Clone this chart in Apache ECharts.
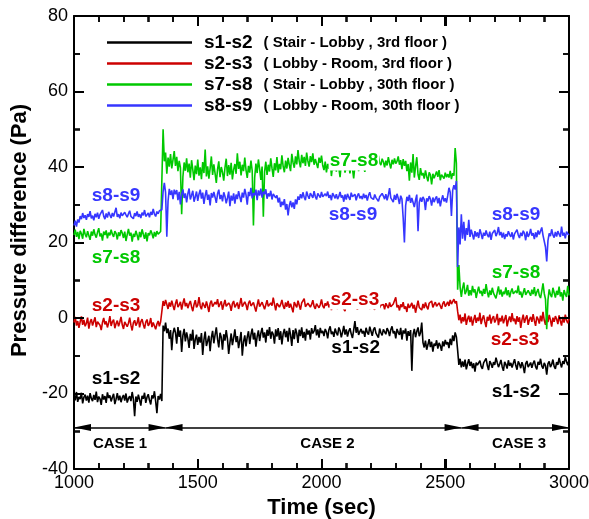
<!DOCTYPE html>
<html>
<head>
<meta charset="utf-8">
<script src="https://cdn.jsdelivr.net/npm/echarts@6/dist/echarts.min.js"></script>
<style>
html, body { margin: 0; padding: 0; background: #fff; }
#wrap { position: relative; width: 589px; height: 519px; }
#chart { width: 589px; height: 519px; }
#err { position: absolute; left: 2px; top: 0; font: 10px monospace; color: #f00; pointer-events: none; }
</style>
</head>
<body>
<div id="wrap"><div id="chart"></div><div id="err"></div></div>
<script>
const errBox = document.getElementById('err');
window.addEventListener('error', e => { errBox.textContent += ' ' + e.message; });

// Pressure differences (Pa), one sample every 5 s from t = 1000 s to t = 3000 s
const T_START = 1000;
const T_STEP = 5;

// s1-s2 : Stair - Lobby, 3rd floor
const s1s2 = [
  -20.5, -21.8, -19.6, -22.2, -20.9, -21.5, -19.8, -22.6, -21.0, -20.3,
  -21.9, -20.6, -22.4, -19.9, -21.3, -22.0, -20.4, -21.7, -19.5, -22.3,
  -20.8, -21.4, -23.0, -20.2, -21.6, -20.7, -22.5, -19.7, -21.2, -20.5,
  -22.1, -21.0, -20.1, -22.8, -21.5, -19.9, -21.8, -20.6, -22.3, -21.1,
  -20.4, -21.9, -20.0, -22.4, -21.3, -20.7, -22.0, -19.6, -21.5, -26.0,
  -20.8, -22.2, -20.3, -21.7, -23.2, -20.6, -21.4, -19.8, -22.5, -21.0,
  -20.2, -21.8, -22.9, -20.5, -21.3, -19.4, -22.1, -25.2, -20.7, -21.6,
  -20.1, -22.0,
  -2.0, -3.5, -1.2, -4.0, -2.8, -5.5, -3.2, -8.5, -4.1, -2.6,
  -3.9, -6.8, -2.4, -5.0, -3.3, -9.0, -4.6, -2.9, -6.2, -3.8,
  -5.4, -7.9, -4.2, -6.0, -3.1, -8.2, -5.7, -4.4, -7.1, -5.0,
  -6.5, -4.0, -9.8, -5.8, -3.6, -7.4, -6.1, -4.7, -8.8, -5.2,
  -3.4, -6.7, -4.5, -2.5, -5.6, -7.8, -3.9, -5.1, -8.4, -4.3,
  -6.0, -3.2, -5.5, -9.5, -6.6, -4.1, -7.2, -5.3, -3.0, -6.4,
  -4.8, -8.0, -5.9, -3.7, -10.0, -6.3, -4.6, -7.5, -5.0, -3.5,
  -6.9, -4.4, -2.8, -5.7, -3.9, -7.6, -4.9, -3.3, -6.1, -4.0,
  -2.6, -5.2, -3.8, -6.5, -3.1, -4.7, -2.4, -5.5, -3.6, -4.3,
  -6.8, -3.0, -4.9, -2.7, -5.8, -3.5, -7.0, -4.2, -2.9, -5.1,
  -3.4, -6.3, -2.6, -4.5, -7.4, -3.2, -5.6, -2.8, -4.0, -6.6,
  -3.1, -4.8, -2.5, -5.3, -3.7, -6.0, -2.9, -4.4, -3.3, -5.7,
  -2.7, -4.1, -3.5, -1.9, -4.6, -3.0, -5.2, -2.6, -4.0, -3.4,
  -4.8, -2.9, -3.7, -5.4, -3.1, -2.2, -4.3, -3.6, -5.0, -2.8,
  -3.9, -4.6, -2.5, -3.3, -5.1, -3.8, -2.1, -4.4, -3.0, -4.9,
  -3.5, -2.7, -4.2, -5.3, -3.2, -0.8, -3.9, -2.4, -4.5, -3.6,
  -2.9, -4.1, -3.4, -5.0, -2.6, -3.8, -4.4, -2.3, -3.5, -4.7,
  -3.1, -2.5, -4.0, -3.6, -5.2, -2.8, -3.9, -4.6, -3.0, -3.7,
  -4.3, -2.7, -3.4, -4.8, -3.1, -2.2, -4.1, -3.5, -5.4, -2.9,
  -3.8, -4.5, -2.6, -5.7, -3.3, -4.1, -2.8, -6.0, -3.5, -4.7,
  -3.2, -14.0, -4.4, -2.9, -5.1, -3.6, -2.5, -4.8, -3.9, -1.2,
  -6.5, -7.8, -6.0, -8.4, -7.1, -5.6, -7.7, -6.3, -8.9, -6.8,
  -7.4, -5.9, -8.1, -6.6, -7.3, -8.7, -6.2, -7.5, -5.8, -7.0,
  -6.4, -8.0, -5.5, -7.2, -4.6, -6.1, -3.8, -5.0,
  -8.5, -12.4, -10.8, -13.1, -11.5, -12.9, -11.0, -13.6, -12.2, -10.9,
  -12.7, -11.6, -13.3, -12.0, -14.2, -11.8, -12.5, -13.0, -11.3, -12.8,
  -13.5, -11.9, -12.3, -10.7, -12.6, -13.8, -11.4, -12.1, -13.2, -11.7,
  -12.4, -10.5, -11.8, -13.0, -12.2, -11.1, -12.9, -14.0, -11.6, -12.3,
  -13.4, -11.2, -12.7, -11.9, -13.1, -12.0, -10.9, -12.6, -13.7, -11.5,
  -12.2, -13.3, -11.7, -12.8, -14.6, -12.1, -11.4, -13.0, -12.5, -11.8,
  -13.2, -12.0, -11.3, -12.9, -13.6, -11.6, -12.4, -10.8, -12.7, -13.4,
  -11.9, -12.6, -15.0, -12.1, -11.5, -13.0, -12.3, -11.0, -12.8, -13.5,
  -11.7, -12.4, -10.6, -12.0, -13.1, -11.4, -12.2, -10.3, -11.6, -12.5,
  -11.0
];

// s2-s3 : Lobby - Room, 3rd floor
const s2s3 = [
  -1.2, 0.3, -2.0, -0.8, -2.6, -1.0, 0.4, -1.8, -0.5, -2.2,
  -1.4, 0.1, -2.8, -1.1, -0.3, -2.0, -1.5, 0.2, -2.4, -1.0,
  -0.6, -1.9, -3.2, -1.2, 0.0, -1.7, -0.9, -2.5, -1.3, 0.5,
  -2.1, -1.0, -0.4, -2.7, -1.5, -0.7, -2.2, -1.1, 0.3, -1.8,
  -2.9, -1.0, -0.5, -2.3, -1.4, 0.1, -1.9, -3.3, -1.2, -0.6,
  -2.0, -1.3, 0.2, -2.5, -1.0, -0.3, -1.7, -2.8, -1.1, -0.4,
  -2.1, -1.5, 0.0, -2.4, -1.2, -0.7, -3.0, -1.6, -0.8, -2.2,
  -1.0, -0.5,
  4.5, 3.2, 4.8, 3.6, 2.4, 4.1, 3.0, 4.6, 3.3, 2.1,
  3.8, 4.9, 2.9, 3.5, 4.3, 2.2, 3.9, 5.2, 3.1, 4.0,
  2.6, 3.7, 4.5, 3.0, 1.8, 3.6, 4.7, 2.8, 3.4, 5.5,
  3.2, 2.3, 4.1, 3.8, 2.7, 4.4, 3.1, 1.6, 3.9, 4.6,
  3.0, 2.5, 4.2, 3.6, 5.0, 2.9, 3.7, 4.4, 2.2, 3.5,
  4.8, 3.1, 2.6, 4.0, 3.4, 1.9, 3.8, 4.5, 2.8, 3.3,
  4.1, 2.4, 3.7, 5.3, 3.0, 2.7, 4.3, 3.5, 2.1, 3.9,
  4.6, 3.2, 2.8, 4.1, 3.6, 1.7, 3.4, 4.9, 3.0, 2.5,
  4.2, 3.8, 2.3, 3.5, 4.7, 3.1, 2.6, 4.0, 3.3, 5.4,
  3.7, 2.0, 3.9, 4.4, 2.9, 3.6, 4.8, 3.2, 2.4, 4.1,
  3.0, 4.5, 2.7, 3.8, 3.3, 1.5, 4.2, 3.5, 2.8, 4.6,
  3.4, 2.2, 4.0, 3.7, 5.1, 3.0, 2.5, 3.9, 4.3, 2.9,
  3.6, 4.7, 3.1, 2.4, 3.8, 4.1, 2.7, 3.5, 4.9, 3.2,
  2.6, 3.9, 3.3, 4.4, 2.8, 3.6, 2.1, 3.7, 4.2, 3.0,
  3.5, 2.4, 3.9, 3.1, 4.6, 2.9, 3.4, 1.8, 3.8, 3.2,
  4.0, 2.7, 3.3, 4.3, 2.5, 3.7, 3.0, 2.2, 3.6, 4.1,
  2.8, 3.4, 5.8, 3.1, 2.6, 3.9, 3.3, 2.4, 3.7, 3.0,
  3.5, 2.2, 3.8, 3.1, 4.4, 2.7, 3.4, 2.9, 3.6, 2.3,
  3.9, 3.2, 2.6, 4.1, 3.0, 2.5, 3.7, 3.3, 5.5, 2.8,
  3.4, 2.0, 3.6, 2.9, 4.2, 2.4, 3.1, 1.6, 3.8, 2.7,
  3.3, 4.0, 2.5, 3.5, 1.4, 3.0, 4.6, 2.8, 3.2, 2.1,
  3.7, 2.6, 4.1, 3.0, 2.3, 3.9, 3.4, 4.5, 2.8, 3.6,
  4.2, 3.1, 2.7, 4.0, 3.5, 2.4, 3.8, 4.4, 3.0, 3.6,
  4.3, 3.2, 4.8, 3.7, 4.1, 5.0, 3.9, 4.5,
  1.8, -0.6, 0.9, -1.4, 0.2, -0.9, 1.2, -1.8, -0.3, 0.6,
  -1.1, 0.4, -2.0, -0.5, 0.8, -1.3, 0.1, -0.8, 1.4, -1.6,
  -0.2, 0.7, -1.0, -2.4, 0.3, -0.7, 0.9, -1.5, -0.1, 0.5,
  -1.2, -0.4, 1.1, -1.9, 0.0, -0.9, 0.6, -1.4, -0.3, 0.8,
  -2.2, -0.6, 0.4, -1.1, 1.3, -0.8, -0.2, -1.7, 0.5, -1.0,
  0.2, -2.6, -0.5, 0.9, -1.3, -0.1, 0.7, -1.8, -0.4, 0.3,
  -1.0, 1.0, -0.7, -2.1, 0.4, -0.3, -1.5, 0.6, -0.9, 1.6,
  -0.6, -1.8, 0.2, -1.1, 0.8, -0.5, -2.3, 0.1, -1.0, 0.5,
  -0.3, -1.6, 0.7, -0.8, -2.0, 0.3, -1.2, 0.9, -0.6, -1.4,
  -0.2
];

// s7-s8 : Stair - Lobby, 30th floor
const s7s8 = [
  22.0, 23.4, 21.5, 22.8, 20.9, 23.1, 22.3, 21.0, 23.6, 22.2,
  21.4, 23.0, 22.6, 20.7, 22.9, 21.8, 23.5, 22.1, 21.3, 22.7,
  23.8, 21.6, 22.4, 20.5, 22.9, 22.0, 23.2, 21.1, 22.6, 21.9,
  23.4, 22.2, 21.5, 23.0, 22.4, 20.8, 22.7, 21.7, 23.3, 22.5,
  21.2, 22.9, 20.4, 22.1, 23.6, 21.8, 22.6, 20.2, 22.3, 21.5,
  23.1, 22.0, 20.6, 22.8, 21.4, 23.5, 22.2, 21.0, 22.7, 20.3,
  22.5, 21.9, 23.2, 22.4, 21.1, 22.8, 21.6, 23.0, 22.2, 21.7,
  22.9, 22.4,
  50.0, 41.5, 43.8, 38.2, 42.5, 40.1, 43.4, 39.6, 41.9, 44.2,
  40.3, 42.7, 38.9, 41.6, 39.8, 27.5, 37.4, 41.2, 39.0, 42.3,
  38.6, 40.9, 37.2, 41.8, 39.3, 36.5, 40.4, 38.1, 42.0, 37.7,
  39.9, 36.8, 41.3, 38.4, 44.6, 37.5, 40.2, 36.9, 39.6, 42.8,
  37.9, 40.7, 38.3, 35.8, 39.4, 41.5, 37.3, 40.0, 38.6, 36.4,
  39.8, 42.2, 37.6, 40.5, 38.0, 41.1, 36.7, 39.3, 40.8, 38.2,
  43.6, 39.5, 41.4, 37.8, 40.6, 38.9, 42.5, 39.2, 37.1, 40.3,
  38.5, 41.7, 39.0, 24.5, 37.2, 40.9, 38.4, 42.0, 39.5, 36.6,
  40.1, 26.8, 38.7, 41.4, 37.9, 40.6, 38.8, 42.3, 39.7, 37.4,
  41.0, 39.1, 42.6, 38.5, 40.8, 39.4, 43.1, 40.2, 38.6, 41.7,
  39.6, 42.4, 40.5, 38.9, 43.5, 41.2, 39.8, 42.8, 40.7, 44.5,
  41.5, 39.9, 43.2, 41.0, 42.7, 40.3, 43.8, 41.6, 40.1, 42.9,
  41.3, 43.6, 40.6, 42.1, 41.8, 39.7, 42.5, 41.1, 43.0, 40.4,
  39.2, 41.4, 38.6, 40.8, 39.5, 41.9, 37.6, 40.3, 39.1, 41.2,
  38.8, 40.5, 39.7, 37.3, 40.9, 39.4, 41.3, 38.5, 40.0, 39.2,
  40.7, 38.3, 41.0, 39.6, 37.0, 40.2, 39.8, 41.5, 38.9, 40.4,
  39.3, 41.8, 40.1, 38.7, 40.6, 39.5, 42.0, 40.3, 41.2, 39.7,
  42.4, 40.8, 41.6, 40.2, 43.0, 41.1, 40.5, 42.2, 41.4, 39.9,
  41.7, 40.4, 42.6, 41.0, 39.6, 41.9, 40.7, 42.3, 40.9, 41.5,
  42.8, 40.6, 41.8, 39.4, 42.1, 40.3, 41.6, 38.9, 40.8, 36.4,
  41.2, 38.5, 43.4, 37.2, 40.1, 42.6, 38.0, 36.6, 39.7, 37.8,
  38.4, 36.9, 39.1, 37.5, 36.2, 38.6, 37.9, 35.4, 38.2, 37.0,
  36.7, 38.8, 37.4, 39.2, 36.5, 38.0, 37.6, 36.9, 38.5, 37.3,
  38.1, 37.2, 39.0, 36.8, 38.4, 37.7, 45.0, 41.0,
  7.5, 14.0, 8.2, 5.6, 7.9, 9.4, 6.3, 7.1, 8.8, 5.9,
  7.4, 6.0, 8.5, 6.8, 7.6, 5.3, 7.0, 8.3, 6.5, 7.2,
  5.8, 7.7, 6.4, 9.0, 6.9, 5.5, 7.3, 6.1, 8.0, 6.6,
  7.1, 5.2, 6.8, 8.4, 6.2, 7.5, 5.7, 7.0, 6.3, 8.1,
  6.0, 7.4, 5.5, 6.9, 7.8, 6.4, 5.9, 7.2, 6.6, 8.6,
  6.2, 7.0, 5.4, 6.7, 7.9, 6.1, 5.6, 7.3, 6.8, 5.9,
  7.5, 6.3, 8.2, 5.8, 6.9, 7.7, 6.0, 5.3, 7.1, 9.2,
  6.5, 5.0, -3.0, 4.8, 7.6, 6.2, 5.5, 8.0, 6.7, 5.4,
  7.2, 6.1, 8.3, 5.7, 6.8, 4.6, 7.4, 6.3, 5.6, 8.5,
  6.0
];

// s8-s9 : Lobby - Room, 30th floor
const s8s9 = [
  24.5, 25.8, 24.2, 26.1, 25.3, 27.0, 26.2, 27.8, 26.5, 27.2,
  26.0, 27.5, 26.8, 28.3, 26.4, 27.1, 25.9, 27.6, 26.7, 27.9,
  26.3, 27.4, 26.9, 28.6, 27.0, 26.2, 27.7, 26.6, 28.1, 27.3,
  26.5, 27.8, 26.9, 27.4, 29.2, 26.8, 27.5, 26.4, 27.9, 27.1,
  26.6, 28.0, 27.3, 26.7, 27.6, 28.4, 26.9, 27.2, 26.3, 27.8,
  27.0, 28.2, 26.8, 27.5, 26.5, 27.9, 27.2, 28.6, 26.9, 27.4,
  27.8, 26.7, 28.1, 27.3, 28.9, 27.5, 26.9, 28.2, 27.6, 28.4,
  27.9, 28.7,
  33.5, 35.8, 33.2, 21.5, 31.0, 34.2, 32.6, 33.8, 31.5, 34.0,
  32.8, 33.9, 31.2, 33.4, 30.1, 32.7, 34.1, 31.8, 33.0, 30.6,
  32.9, 34.3, 31.4, 32.5, 33.7, 30.8, 32.1, 33.5, 31.0, 32.8,
  34.0, 31.6, 33.2, 30.2, 32.4, 33.9, 31.3, 32.7, 29.8, 33.1,
  31.9, 33.4, 32.0, 30.5, 32.9, 34.0, 31.5, 32.6, 30.9, 33.3,
  32.2, 30.4, 31.8, 33.5, 29.6, 32.4, 31.1, 33.0, 30.3, 32.7,
  31.5, 33.6, 32.1, 30.7, 33.2, 31.9, 34.2, 32.6, 30.0, 33.4,
  32.3, 34.5, 31.7, 33.1, 32.5, 34.0, 31.2, 33.8, 32.4, 34.3,
  31.9, 33.5, 32.8, 34.1, 31.6, 33.0, 32.2, 33.7, 31.4, 32.9,
  33.4, 31.8, 32.5, 30.6, 31.9, 29.4, 30.8, 29.9, 31.5, 28.7,
  30.2, 27.2, 29.8, 31.0, 29.3, 30.6, 28.9, 31.4, 30.1, 32.2,
  31.3, 32.8, 31.7, 33.3, 32.0, 31.2, 33.5, 32.4, 31.6, 33.1,
  32.5, 31.8, 33.6, 32.2, 31.4, 33.0, 32.7, 31.9, 33.4, 32.1,
  31.6, 32.9, 32.3, 33.5, 31.8, 32.6, 31.2, 33.1, 32.4, 31.7,
  32.8, 31.5, 32.2, 33.4, 31.9, 32.5, 30.8, 32.7, 31.4, 32.9,
  32.0, 31.3, 33.2, 32.1, 31.6, 32.8, 31.2, 32.4, 33.0, 31.7,
  32.3, 31.5, 32.9, 31.8, 32.6, 31.1, 32.5, 33.3, 31.9, 32.2,
  31.4, 32.7, 31.9, 32.4, 30.9, 32.1, 31.6, 33.0, 32.3, 31.5,
  32.8, 31.2, 32.5, 34.4, 31.8, 32.2, 30.7, 32.6, 31.3, 32.9,
  31.7, 30.2, 32.4, 31.5, 26.5, 20.0, 29.8, 32.1, 31.0, 32.6,
  30.5, 31.8, 32.3, 29.4, 31.2, 32.7, 23.0, 30.6, 31.9, 30.8,
  32.1, 31.4, 28.6, 31.7, 30.9, 32.3, 31.5, 29.8, 31.9, 30.7,
  31.6, 32.2, 30.4, 31.8, 29.6, 31.3, 32.5, 30.9, 31.7, 30.6,
  32.4, 34.5, 33.3, 27.0, 33.8, 35.2, 34.0, 36.3,
  13.5, 24.0, 19.5, 27.5, 21.0, 25.5, 20.5, 23.8, 22.0, 26.0,
  21.5, 23.4, 22.1, 20.8, 23.0, 21.6, 22.7, 21.2, 23.5, 22.3,
  20.9, 22.6, 21.8, 23.2, 22.0, 21.4, 22.9, 20.7, 22.4, 21.9,
  23.3, 21.7, 22.5, 24.1, 21.9, 22.8, 21.3, 22.6, 20.9, 22.2,
  21.6, 23.0, 22.1, 21.5, 22.7, 20.8, 22.3, 21.8, 23.4, 22.0,
  21.2, 22.6, 21.7, 23.1, 22.4, 20.6, 22.9, 21.5, 22.2, 23.6,
  21.8, 22.5, 20.9, 22.7, 21.4, 23.2, 22.1, 21.6, 24.0, 21.9,
  22.3, 18.8, 15.0, 20.5, 22.4, 21.7, 23.5, 22.0, 21.3, 22.8,
  21.6, 23.0, 22.2, 21.5, 24.2, 21.8, 22.6, 21.1, 22.9, 22.3,
  22.0
];

const seriesNames = ['s1-s2', 's2-s3', 's7-s8', 's8-s9'];
const seriesNotes = [
  '( Stair - Lobby , 3rd floor )',
  '( Lobby - Room, 3rd floor )',
  '( Stair - Lobby , 30th floor )',
  '( Lobby - Room, 30th floor )'
];
const seriesColors = ['#000000', '#cc0000', '#00c800', '#3636ff'];

// Test-case intervals on the time axis (s)
const caseNames = ['CASE 1', 'CASE 2', 'CASE 3'];
const caseBounds = [1000, 1370, 2566, 3000];
const caseLabelTimes = [1186, 2024, 2798];
const caseArrowLevel = -29;
const caseLabelLevel = -33.4;

// Tags written next to the traces: [series, time (s), pressure (Pa)]
const seriesTags = [
  ['s1-s2', 1170, -16.2], ['s1-s2', 2138, -8.0], ['s1-s2', 2786, -19.5],
  ['s2-s3', 1170, 3.2],   ['s2-s3', 2135, 4.8],  ['s2-s3', 2782, -5.8],
  ['s7-s8', 1170, 16.0],  ['s7-s8', 2131, 41.6], ['s7-s8', 2786, 12.0],
  ['s8-s9', 1170, 32.4],  ['s8-s9', 2127, 27.3], ['s8-s9', 2786, 27.3]
];

// Axis ranges: major steps, and how many minor steps each major step holds
const X_RANGE = { type: 'value', min: 1000, max: 3000, interval: 500 };
const Y_RANGE = { type: 'value', min: -40, max: 80, interval: 20 };
const X_MINOR_SPLIT = 5;
const Y_MINOR_SPLIT = 2;

const FONT = 'Liberation Sans';

// Axis pieces are built fresh for every axis
const frameLine = (extra) => Object.assign({ show: true, lineStyle: { color: '#000', width: 2 } }, extra || {});
const majorTick = () => ({ show: true, inside: true, length: 10, lineStyle: { color: '#000', width: 2 } });
const minorTick = (n) => ({ show: true, splitNumber: n, length: 6, lineStyle: { color: '#000', width: 1.5 } });
const tickLabel = (margin) => ({
  show: true, margin: margin, color: '#000', fontFamily: FONT, fontSize: 18,
  showMinLabel: true, showMaxLabel: true, formatter: v => String(v)
});
const titleStyle = () => ({ color: '#000', fontFamily: FONT, fontSize: 22, fontWeight: 'bold' });

// Tick positions on the frame: [value, 0 = time axis / 1 = pressure axis, 1 = major]
const frameTicks = [];
for (let k = 0; k <= (X_RANGE.max - X_RANGE.min) / X_RANGE.interval * X_MINOR_SPLIT; k++) {
  frameTicks.push([X_RANGE.min + k * X_RANGE.interval / X_MINOR_SPLIT, 0, k % X_MINOR_SPLIT === 0 ? 1 : 0]);
}
for (let k = 0; k <= (Y_RANGE.max - Y_RANGE.min) / Y_RANGE.interval * Y_MINOR_SPLIT; k++) {
  frameTicks.push([Y_RANGE.min + k * Y_RANGE.interval / Y_MINOR_SPLIT, 1, k % Y_MINOR_SPLIT === 0 ? 1 : 0]);
}

const chart = echarts.init(document.getElementById('chart'));

const valueSets = [s1s2, s2s3, s7s8, s8s9];
const series = seriesNames.map((name, k) => ({
  name: name,
  type: 'line',
  data: valueSets[k].map((v, i) => [T_START + i * T_STEP, v]),
  showSymbol: false,
  symbol: 'none',
  silent: true,
  lineStyle: { color: seriesColors[k], width: 1.6 },
  itemStyle: { color: seriesColors[k] },
  markPoint: {
    silent: true,
    z: 10,
    symbol: 'rect',
    symbolSize: 0,
    label: {
      show: true,
      position: 'inside',
      formatter: name,
      color: seriesColors[k],
      fontFamily: FONT,
      fontSize: 19,
      fontWeight: 'bold',
      backgroundColor: '#ffffff',
      padding: [0, 1, 0, 1]
    },
    data: seriesTags.filter(t => t[0] === name).map(t => ({ name: name, coord: [t[1], t[2]] }))
  }
}));

// Case arrows and captions (slim filled arrowheads whose tips sit on the interval ends)
series.push({
  name: 'cases',
  type: 'line',
  data: [],
  silent: true,
  markLine: {
    silent: true,
    z: 10,
    symbol: ['path://M0,0L3.5,17L-3.5,17Z', 'path://M0,0L3.5,17L-3.5,17Z'],
    symbolKeepAspect: true,
    symbolSize: 17,
    symbolOffset: [[0, 8.5], [0, 8.5]],
    label: { show: false },
    emphasis: { disabled: true },
    lineStyle: { color: '#000', width: 1.5, type: 'solid' },
    itemStyle: { color: '#000' },
    data: caseNames.map((c, i) => [
      { coord: [caseBounds[i], caseArrowLevel] },
      { coord: [caseBounds[i + 1], caseArrowLevel] }
    ])
  },
  markPoint: {
    silent: true,
    z: 10,
    symbol: 'rect',
    symbolSize: 0,
    label: {
      show: true,
      position: 'inside',
      formatter: p => p.name,
      color: '#000',
      fontFamily: FONT,
      fontSize: 15,
      fontWeight: 'bold'
    },
    data: caseNames.map((c, i) => ({ name: c, coord: [caseLabelTimes[i], caseLabelLevel] }))
  }
});

const option = {
  animation: false,
  backgroundColor: '#ffffff',
  textStyle: { fontFamily: FONT },
  grid: { left: 74, right: 20, top: 16, bottom: 50, outerBoundsMode: 'none' },
  legend: {
    show: true,
    orient: 'vertical',
    left: 107,
    top: 33,
    padding: 0,
    itemGap: 2,
    itemWidth: 85,
    itemHeight: 2.5,
    icon: 'rect',
    selectedMode: false,
    data: seriesNames,
    formatter: name => '{a|' + name + '}{b|' + seriesNotes[seriesNames.indexOf(name)] + '}',
    textStyle: {
      rich: {
        a: { fontFamily: FONT, fontSize: 19, fontWeight: 'bold', color: '#000', lineHeight: 20, padding: [0, 11, 0, 7] },
        b: { fontFamily: FONT, fontSize: 15, fontWeight: 'bold', color: '#000', lineHeight: 20 }
      }
    }
  },
  xAxis: [
    Object.assign({}, X_RANGE, {
      position: 'bottom',
      axisLine: frameLine({ onZero: true, onZeroAxisIndex: 2 }),
      axisTick: majorTick(),
      minorTick: minorTick(X_MINOR_SPLIT),
      splitLine: { show: false },
      axisLabel: tickLabel(5),
      name: 'Time (sec)',
      nameLocation: 'middle',
      nameGap: 14,
      nameTextStyle: titleStyle()
    }),
    Object.assign({}, X_RANGE, {
      position: 'top',
      axisLine: frameLine({ onZero: true, onZeroAxisIndex: 2 }),
      axisTick: majorTick(),
      minorTick: minorTick(X_MINOR_SPLIT),
      splitLine: { show: false },
      axisLabel: { show: false }
    })
  ],
  yAxis: [
    Object.assign({}, Y_RANGE, {
      position: 'left',
      axisLine: frameLine(),
      axisTick: majorTick(),
      minorTick: minorTick(Y_MINOR_SPLIT),
      splitLine: { show: false },
      axisLabel: tickLabel(6),
      name: 'Pressure difference (Pa)',
      nameLocation: 'middle',
      nameRotate: 90,
      nameGap: 42,
      nameTextStyle: Object.assign({ padding: [0, 0, 0, 24] }, titleStyle())
    }),
    Object.assign({}, Y_RANGE, {
      position: 'right',
      axisLine: frameLine(),
      axisTick: majorTick(),
      minorTick: minorTick(Y_MINOR_SPLIT),
      splitLine: { show: false },
      axisLabel: { show: false }
    }),
    // keeps both time axes on the frame edges instead of the zero line
    { type: 'value', min: 1, max: 2, show: false }
  ],
  series: series
};

try {
  chart.setOption(option);
} catch (e) {
  errBox.textContent += ' setOption: ' + e.message;
}

// Inward ticks on all four sides of the frame, placed through the axis scales
try {
  const px = v => chart.convertToPixel({ xAxisIndex: 0 }, v);
  const py = v => chart.convertToPixel({ yAxisIndex: 0 }, v);
  const bottom = py(Y_RANGE.min), top = py(Y_RANGE.max);
  const left = px(X_RANGE.min), right = px(X_RANGE.max);
  const elements = [];
  frameTicks.forEach(([v, onPressureAxis, major]) => {
    const len = major ? 10 : 6;
    const lw = major ? 2 : 1.5;
    const mk = (x1, y1, x2, y2) => ({
      type: 'line', silent: true, z: 50,
      shape: { x1: x1, y1: y1, x2: x2, y2: y2 },
      style: { stroke: '#000', lineWidth: lw }
    });
    if (onPressureAxis) {
      const y = Math.round(py(v));
      elements.push(mk(left, y, left + len, y), mk(right, y, right - len, y));
    } else {
      const x = Math.round(px(v));
      elements.push(mk(x, bottom, x, bottom - len), mk(x, top, x, top + len));
    }
  });
  chart.setOption({ graphic: { elements: elements } });
} catch (e) {
  errBox.textContent += ' ticks: ' + e.message;
}
</script>
</body>
</html>
